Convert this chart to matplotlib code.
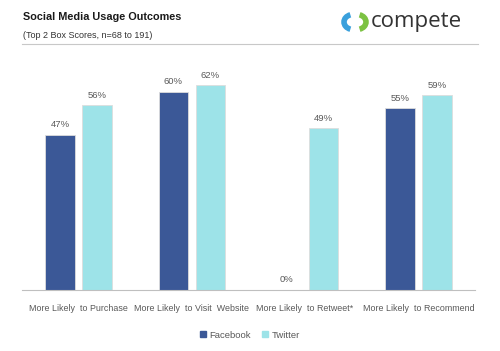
import matplotlib
matplotlib.use("Agg")
import matplotlib.pyplot as plt
import numpy as np
from matplotlib.patches import Arc
from matplotlib.lines import Line2D

categories = ["More Likely  to Purchase", "More Likely  to Visit  Website",
              "More Likely  to Retweet*", "More Likely  to Recommend"]
facebook = [0.47, 0.60, 0.00, 0.55]
twitter = [0.56, 0.62, 0.49, 0.59]
series_names = ["Facebook", "Twitter"]

FB_COLOR = "#3B5897"
TW_COLOR = "#9DE3E8"
TXT = "#595959"
W, H = 500, 351

plt.rcParams['font.family'] = ['Liberation Sans', 'DejaVu Sans']

fig = plt.figure(figsize=(5, 3.51), dpi=100)
fig.patch.set_facecolor("white")

def rect(x0, y0, x1, y1):
    # pixel box (top-left origin) -> figure fraction
    return [x0 / W, 1 - y1 / H, (x1 - x0) / W, (y1 - y0) / H]

ax = fig.add_axes(rect(22, 59, 475, 290))
x = np.arange(len(categories))
bw = 0.26
off = 0.164
b1 = ax.bar(x - off, facebook, bw, color=FB_COLOR, edgecolor="#dddddd", linewidth=0.6)
b2 = ax.bar(x + off, twitter, bw, color=TW_COLOR, edgecolor="#dddddd", linewidth=0.6)
for bars, vals in ((b1, facebook), (b2, twitter)):
    for b, v in zip(bars, vals):
        ax.annotate("%d%%" % round(v * 100), (b.get_x() + b.get_width() / 2, v),
                    xytext=(0, 4), textcoords="offset points", ha="center", va="bottom",
                    fontsize=6.8, color=TXT)

ax.set_xlim(-0.5, len(categories) - 0.5)
ax.set_ylim(0, 0.70)
ax.set_yticks([])
ax.set_xticks(x)
ax.set_xticklabels(categories, fontsize=6.4, color=TXT)
ax.tick_params(axis="x", length=0, pad=10)
for s in ("top", "right", "left"):
    ax.spines[s].set_visible(False)
ax.spines["bottom"].set_color("#bfbfbf")
ax.spines["bottom"].set_linewidth(0.8)

handles = [plt.Rectangle((0, 0), 1, 1, color=FB_COLOR),
           plt.Rectangle((0, 0), 1, 1, color=TW_COLOR)]
fig.legend(handles, series_names, loc="center", bbox_to_anchor=(250 / W, 1 - 335 / H),
           ncol=2, frameon=False, fontsize=6.8, labelcolor=TXT,
           handlelength=0.6, handleheight=0.6, handletextpad=0.4, columnspacing=1.2)

fig.text(23 / W, 1 - 17 / H, "Social Media Usage Outcomes", fontsize=7.8,
         fontweight="bold", color="#1a1a1a", va="center", ha="left")
fig.text(23 / W, 1 - 35 / H, "(Top 2 Box Scores, n=68 to 191)", fontsize=6.5,
         color="#333333", va="center", ha="left")
fig.add_artist(Line2D([22 / W, 478 / W], [1 - 44 / H, 1 - 44 / H],
                      color="#c8c8c8", linewidth=0.8))

# logo
lax = fig.add_axes(rect(339, 11, 371, 33))
lax.set_xlim(0, 32)
lax.set_ylim(0, 22)
lax.axis("off")
lax.add_patch(Arc((14, 11), 18, 15, theta1=110, theta2=250, color="#3aa0dc", linewidth=4))
lax.add_patch(Arc((18, 11), 18, 15, theta1=-70, theta2=70, color="#7cc242", linewidth=4))
fig.text(371 / W, 1 - 22 / H, "compete", fontsize=16, color="#333333",
         family=["Open Sans", "DejaVu Sans"], va="center", ha="left")

fig.savefig("out.png", dpi=100)
